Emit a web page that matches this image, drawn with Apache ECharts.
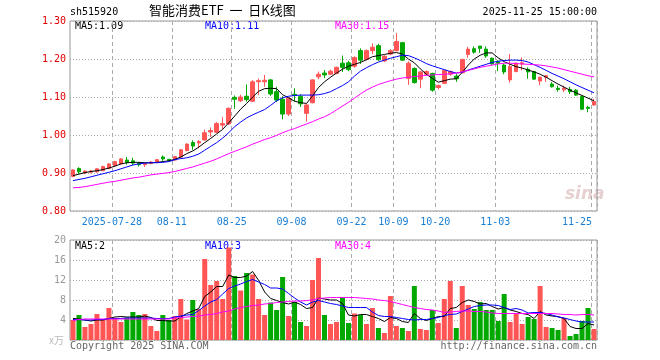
<!DOCTYPE html>
<html><head><meta charset="utf-8">
<script src="https://cdn.jsdelivr.net/npm/echarts@6/dist/echarts.min.js"></script>
<style>html,body{margin:0;padding:0;background:#fff}#c{width:660px;height:360px}</style>
</head><body><div id="c"></div>
<script>
const dates = ["2025-07-17","2025-07-18","2025-07-21","2025-07-22","2025-07-23","2025-07-24","2025-07-25","2025-07-28","2025-07-29","2025-07-30","2025-07-31",
"2025-08-01","2025-08-04","2025-08-05","2025-08-06","2025-08-07","2025-08-08","2025-08-11","2025-08-12","2025-08-13","2025-08-14","2025-08-15","2025-08-18","2025-08-19","2025-08-20","2025-08-21","2025-08-22","2025-08-25","2025-08-26","2025-08-27","2025-08-28","2025-08-29",
"2025-09-01","2025-09-02","2025-09-03","2025-09-04","2025-09-05","2025-09-08","2025-09-09","2025-09-10","2025-09-11","2025-09-12","2025-09-15","2025-09-16","2025-09-17","2025-09-18","2025-09-19","2025-09-22","2025-09-23","2025-09-24","2025-09-25","2025-09-26","2025-09-29","2025-09-30",
"2025-10-09","2025-10-10","2025-10-13","2025-10-14","2025-10-15","2025-10-16","2025-10-17","2025-10-20","2025-10-21","2025-10-22","2025-10-23","2025-10-24","2025-10-27","2025-10-28","2025-10-29","2025-10-30","2025-10-31",
"2025-11-03","2025-11-04","2025-11-05","2025-11-06","2025-11-07","2025-11-10","2025-11-11","2025-11-12","2025-11-13","2025-11-14","2025-11-17","2025-11-18","2025-11-19","2025-11-20","2025-11-21","2025-11-24","2025-11-25"];

const opens = [0.891,0.912,0.900,0.902,0.903,0.906,0.912,0.919,0.924,0.934,0.932,0.925,0.922,0.925,0.929,0.942,0.936,0.934,0.942,0.959,0.980,0.979,0.987,1.008,1.007,1.026,1.029,1.099,1.090,1.102,1.089,1.140,1.140,1.145,1.114,1.094,1.055,1.107,1.101,1.057,1.085,1.153,1.163,1.160,1.162,1.189,1.190,1.181,1.222,1.199,1.222,1.235,1.195,1.213,1.222,1.243,1.149,1.175,1.147,1.160,1.162,1.125,1.136,1.160,1.155,1.164,1.212,1.227,1.234,1.226,1.202,1.193,1.184,1.145,1.167,1.187,1.173,1.167,1.142,1.152,1.134,1.123,1.119,1.120,1.118,1.101,1.073,1.079];
const closes = [0.908,0.903,0.905,0.905,0.911,0.917,0.924,0.930,0.937,0.928,0.926,0.922,0.925,0.929,0.935,0.937,0.933,0.943,0.961,0.976,0.971,0.983,1.006,1.012,1.030,1.030,1.070,1.094,1.100,1.093,1.140,1.143,1.144,1.108,1.092,1.055,1.097,1.104,1.082,1.079,1.145,1.160,1.158,1.168,1.178,1.178,1.172,1.204,1.197,1.222,1.231,1.198,1.207,1.222,1.246,1.197,1.189,1.138,1.166,1.167,1.118,1.130,1.170,1.167,1.148,1.199,1.226,1.218,1.228,1.208,1.187,1.189,1.166,1.180,1.189,1.190,1.166,1.147,1.152,1.156,1.127,1.120,1.123,1.114,1.105,1.068,1.070,1.088];
const lows = [0.889,0.898,0.898,0.899,0.901,0.905,0.910,0.917,0.922,0.922,0.921,0.917,0.916,0.923,0.927,0.932,0.932,0.933,0.940,0.957,0.961,0.965,0.985,0.995,1.005,1.016,1.027,1.069,1.087,1.088,1.087,1.105,1.127,1.103,1.087,1.041,1.050,1.088,1.074,1.035,1.083,1.147,1.150,1.158,1.160,1.166,1.168,1.177,1.187,1.196,1.213,1.195,1.192,1.210,1.220,1.195,1.132,1.135,1.123,1.157,1.114,1.120,1.134,1.156,1.140,1.162,1.203,1.214,1.216,1.203,1.185,1.168,1.160,1.138,1.165,1.170,1.148,1.145,1.131,1.140,1.125,1.114,1.113,1.108,1.103,1.066,1.060,1.077];
const highs = [0.910,0.915,0.907,0.908,0.913,0.919,0.926,0.932,0.939,0.942,0.940,0.929,0.926,0.931,0.937,0.946,0.937,0.945,0.963,0.978,0.986,0.987,1.014,1.020,1.034,1.047,1.073,1.104,1.106,1.133,1.145,1.149,1.158,1.147,1.127,1.102,1.099,1.123,1.107,1.081,1.147,1.167,1.171,1.172,1.180,1.209,1.195,1.207,1.228,1.225,1.241,1.240,1.210,1.226,1.268,1.245,1.194,1.178,1.168,1.170,1.164,1.133,1.172,1.170,1.160,1.200,1.232,1.233,1.234,1.233,1.204,1.197,1.188,1.213,1.191,1.204,1.178,1.169,1.154,1.158,1.139,1.130,1.130,1.127,1.121,1.103,1.077,1.095];

const ma5 = [0.893,0.897,0.901,0.904,0.906,0.909,0.913,0.918,0.924,0.927,0.928,0.928,0.927,0.927,0.928,0.930,0.932,0.936,0.942,0.951,0.958,0.968,0.980,0.991,1.003,1.015,1.032,1.050,1.068,1.083,1.100,1.115,1.122,1.123,1.122,1.106,1.098,1.089,1.085,1.083,1.103,1.125,1.140,1.152,1.163,1.173,1.181,1.186,1.191,1.198,1.206,1.209,1.212,1.215,1.217,1.213,1.200,1.190,1.174,1.160,1.149,1.139,1.143,1.147,1.148,1.165,1.184,1.200,1.210,1.216,1.216,1.203,1.193,1.186,1.180,1.176,1.171,1.166,1.160,1.152,1.143,1.134,1.126,1.118,1.111,1.104,1.097,1.090];
const ma10 = [0.880,0.883,0.886,0.890,0.894,0.898,0.902,0.906,0.911,0.916,0.921,0.924,0.926,0.927,0.927,0.928,0.930,0.935,0.938,0.940,0.944,0.950,0.960,0.970,0.980,0.992,1.006,1.022,1.034,1.045,1.053,1.060,1.067,1.078,1.090,1.098,1.102,1.104,1.105,1.105,1.105,1.106,1.109,1.114,1.122,1.130,1.140,1.155,1.168,1.177,1.185,1.192,1.197,1.202,1.206,1.210,1.209,1.203,1.196,1.188,1.182,1.177,1.172,1.167,1.163,1.165,1.171,1.176,1.181,1.186,1.191,1.194,1.196,1.197,1.197,1.196,1.192,1.185,1.178,1.170,1.162,1.155,1.148,1.140,1.132,1.125,1.118,1.111];
const ma30 = [0.861,0.862,0.864,0.867,0.870,0.873,0.876,0.878,0.881,0.884,0.887,0.889,0.892,0.895,0.897,0.899,0.901,0.904,0.908,0.912,0.916,0.921,0.926,0.931,0.937,0.944,0.951,0.957,0.963,0.969,0.976,0.982,0.988,0.993,0.999,1.006,1.012,1.017,1.023,1.029,1.035,1.042,1.048,1.056,1.066,1.076,1.086,1.097,1.108,1.118,1.126,1.133,1.138,1.143,1.147,1.150,1.152,1.154,1.155,1.157,1.158,1.159,1.160,1.161,1.163,1.166,1.170,1.174,1.178,1.181,1.184,1.187,1.189,1.189,1.188,1.187,1.186,1.185,1.184,1.182,1.179,1.176,1.172,1.168,1.164,1.160,1.156,1.153];

const volumes = [4.0,5.0,2.6,3.2,5.2,4.2,6.4,4.2,3.6,4.5,5.6,5.0,5.2,2.8,1.8,5.0,4.0,4.8,8.2,4.1,8.0,6.2,16.2,11.0,11.8,8.2,18.5,12.8,9.9,13.4,13.1,8.2,5.0,7.5,6.0,12.6,4.8,7.6,3.6,2.8,12.0,16.4,5.0,3.2,3.6,8.5,3.4,5.3,5.0,3.2,6.4,2.4,1.4,8.8,2.8,2.4,1.8,10.8,2.2,2.0,6.0,3.4,8.2,11.8,2.4,10.8,7.0,6.2,7.6,6.0,6.0,3.8,9.2,3.6,5.2,3.2,4.6,4.2,10.8,2.6,2.4,2.0,4.4,0.8,1.2,3.8,6.4,2.2];
const vma5 = [4.3,4.2,4.0,3.8,4.0,4.0,4.3,4.6,4.7,4.6,4.6,4.6,4.8,4.5,3.9,3.9,3.8,3.8,4.6,5.3,5.8,6.3,8.7,9.6,10.7,10.7,13.0,12.5,12.5,12.8,13.7,11.9,9.6,8.3,7.9,7.5,7.2,7.6,7.1,6.3,6.5,8.4,8.2,8.0,8.0,7.3,5.0,4.8,5.1,5.1,4.7,4.3,3.7,4.5,4.3,3.7,3.5,5.3,4.3,3.9,4.3,4.7,4.7,6.3,6.5,7.5,8.0,7.7,7.2,7.3,6.7,6.2,6.5,6.0,5.7,5.3,5.1,4.3,5.7,5.0,4.8,4.7,4.3,2.7,2.3,2.3,3.3,3.0];
const vma10 = [4.1,4.1,4.0,4.0,4.1,4.1,4.3,4.3,4.3,4.4,4.4,4.4,4.4,4.4,4.3,4.3,4.3,4.6,4.8,5.0,5.1,5.9,6.8,7.6,8.1,9.2,10.3,10.8,11.2,11.7,12.1,11.6,11.1,10.4,10.4,10.2,9.3,8.4,7.6,7.0,7.6,7.9,7.6,7.3,7.1,6.8,6.5,6.5,6.5,6.5,5.6,4.9,4.7,4.7,4.5,4.3,4.1,4.0,4.1,4.1,4.3,4.5,4.9,5.1,5.2,5.7,6.2,6.7,6.9,7.0,7.0,6.9,6.5,6.1,6.3,6.0,5.4,5.5,5.5,5.3,5.0,4.6,4.4,4.1,3.8,3.6,3.6,3.6];
const vma30 = [3.9,4.1,4.2,4.2,4.2,4.2,4.2,4.2,4.2,4.2,4.2,4.2,4.2,4.2,4.2,4.2,4.2,4.4,4.5,4.6,4.7,4.8,5.0,5.1,5.3,5.6,5.8,6.2,6.5,6.7,6.9,7.0,7.2,7.3,7.5,7.6,7.7,7.8,7.8,7.9,8.0,8.3,8.4,8.5,8.5,8.5,8.5,8.5,8.4,8.3,8.2,8.0,7.9,7.7,7.4,7.1,6.8,6.5,6.3,6.1,6.0,5.8,5.5,5.6,5.7,5.8,5.8,5.7,5.7,5.6,5.4,5.3,5.3,5.3,5.3,5.3,5.3,5.3,5.3,5.3,5.3,5.2,5.1,5.1,5.0,5.1,5.1,5.0];

const labelIdx = [7,17,27,37,47,54,61,71,87];
const priceTicks = [0.8,0.9,1.0,1.1,1.2,1.3];
const volTicks = [0,4,8,12,16,20];
const maLabels = ['MA5:1.09','MA10:1.11','MA30:1.15'];
const volMaLabels = ['MA5:2','MA10:3','MA30:4'];

const MONO = '"DejaVu Sans Mono", "Liberation Mono", monospace';
const UP = '#ff5555', DOWN = '#00a800';
const isLbl = i => labelIdx.indexOf(i) >= 0;

const chart = echarts.init(document.getElementById('c'), null, {renderer:'canvas'});
const gridBorder = {show:true, borderColor:'#999', borderWidth:1, backgroundColor:'transparent'};
const vSplit = {show:true, interval:(i)=>isLbl(i), lineStyle:{color:'#aaa', type:[4,3], width:1}};
const hSplit = {show:true, lineStyle:{color:'#aaa', type:[1,2], width:1}};

chart.setOption({
  animation:false,
  backgroundColor:'#fff',
  grid:[
    Object.assign({left:70, top:21, width:527, height:190}, gridBorder),
    Object.assign({left:70, top:240, width:527, height:100}, gridBorder)
  ],
  xAxis:[
    {type:'category', gridIndex:0, data:dates, boundaryGap:true,
     axisLine:{show:false}, axisTick:{show:false}, splitLine:vSplit,
     axisLabel:{interval:(i)=>isLbl(i), margin:6, color:'#1a7fd4', fontFamily:MONO, fontSize:10,
       formatter:(v,i)=> i===87 ? '{r|'+v.slice(5)+'}' : '{c|'+(i===7 ? v : v.slice(5))+'}',
       rich:{c:{padding:[0,6,0,0], color:'#1a7fd4', fontFamily:MONO, fontSize:10},
             r:{padding:[0,34,0,0], color:'#1a7fd4', fontFamily:MONO, fontSize:10}}}},
    {type:'category', gridIndex:1, data:dates, boundaryGap:true,
     axisLine:{show:false}, axisTick:{show:false}, splitLine:vSplit, axisLabel:{show:false}}
  ],
  yAxis:[
    {type:'value', gridIndex:0, min:priceTicks[0], max:priceTicks[priceTicks.length-1], interval:0.1,
     axisLine:{show:false}, axisTick:{show:false}, splitLine:hSplit,
     axisLabel:{margin:4, color:'#e00000', fontFamily:MONO, fontSize:10, formatter:v=>v.toFixed(2)}},
    {type:'value', gridIndex:1, min:volTicks[0], max:volTicks[volTicks.length-1], interval:4,
     axisLine:{show:false}, axisTick:{show:false}, splitLine:hSplit,
     axisLabel:{margin:4, color:'#999', fontFamily:MONO, fontSize:10, formatter:v=> v===0 ? '' : String(v)}}
  ],
  series:[
    {type:'candlestick', xAxisIndex:0, yAxisIndex:0, barWidth:4,
     data:dates.map((d,i)=>[opens[i],closes[i],lows[i],highs[i]]),
     itemStyle:{color:UP, color0:DOWN, borderColor:UP, borderColor0:DOWN, borderWidth:1}},
    {type:'line', xAxisIndex:0, yAxisIndex:0, data:ma5, symbol:'none', lineStyle:{color:'#000', width:1}, z:3},
    {type:'line', xAxisIndex:0, yAxisIndex:0, data:ma10, symbol:'none', lineStyle:{color:'#0000ff', width:1}, z:3},
    {type:'line', xAxisIndex:0, yAxisIndex:0, data:ma30, symbol:'none', lineStyle:{color:'#ff00ff', width:1}, z:3},
    {type:'bar', xAxisIndex:1, yAxisIndex:1, barWidth:5,
     data:volumes.map((v,i)=>({value:v, itemStyle:{color: closes[i]>=opens[i] ? UP : DOWN}}))},
    {type:'line', xAxisIndex:1, yAxisIndex:1, data:vma5, symbol:'none', lineStyle:{color:'#000', width:1}, z:3},
    {type:'line', xAxisIndex:1, yAxisIndex:1, data:vma10, symbol:'none', lineStyle:{color:'#0000ff', width:1}, z:3},
    {type:'line', xAxisIndex:1, yAxisIndex:1, data:vma30, symbol:'none', lineStyle:{color:'#ff00ff', width:1}, z:3}
  ],
  graphic:[
    {type:'text', left:70, top:7, style:{text:'sh515920', font:'10px '+MONO, fill:'#000'}},
    {type:'text', left:149, top:4, style:{text:'智能消费ETF  一  日K线图', font:'13px "Noto Sans CJK SC"', fill:'#000'}},
    {type:'text', right:63, top:7, style:{text:'2025-11-25 15:00:00', font:'10px '+MONO, fill:'#000'}},
    {type:'text', left:75, top:21, style:{text:maLabels[0], font:'10px '+MONO, fill:'#000'}},
    {type:'text', left:205, top:21, style:{text:maLabels[1], font:'10px '+MONO, fill:'#0000ff'}},
    {type:'text', left:335, top:21, style:{text:maLabels[2], font:'10px '+MONO, fill:'#ff00ff'}},
    {type:'text', left:75, top:241, style:{text:volMaLabels[0], font:'10px '+MONO, fill:'#000'}},
    {type:'text', left:205, top:241, style:{text:volMaLabels[1], font:'10px '+MONO, fill:'#0000ff'}},
    {type:'text', left:335, top:241, style:{text:volMaLabels[2], font:'10px '+MONO, fill:'#ff00ff'}},
    {type:'text', left:49, top:335, style:{text:'x万', font:'10px "Noto Sans CJK SC"', fill:'#bbb'}},
    {type:'text', left:70, top:341, style:{text:'Copyright 2025 SINA.COM', font:'10px '+MONO, fill:'#666'}},
    {type:'text', right:63, top:341, style:{text:'http://finance.sina.com.cn', font:'10px '+MONO, fill:'#666'}},
    {type:'text', left:565, top:186, style:{text:'sina', font:'italic bold 17px "DejaVu Sans"', fill:'rgba(200,150,150,0.45)'}}
  ]
});
</script>
</body></html>
